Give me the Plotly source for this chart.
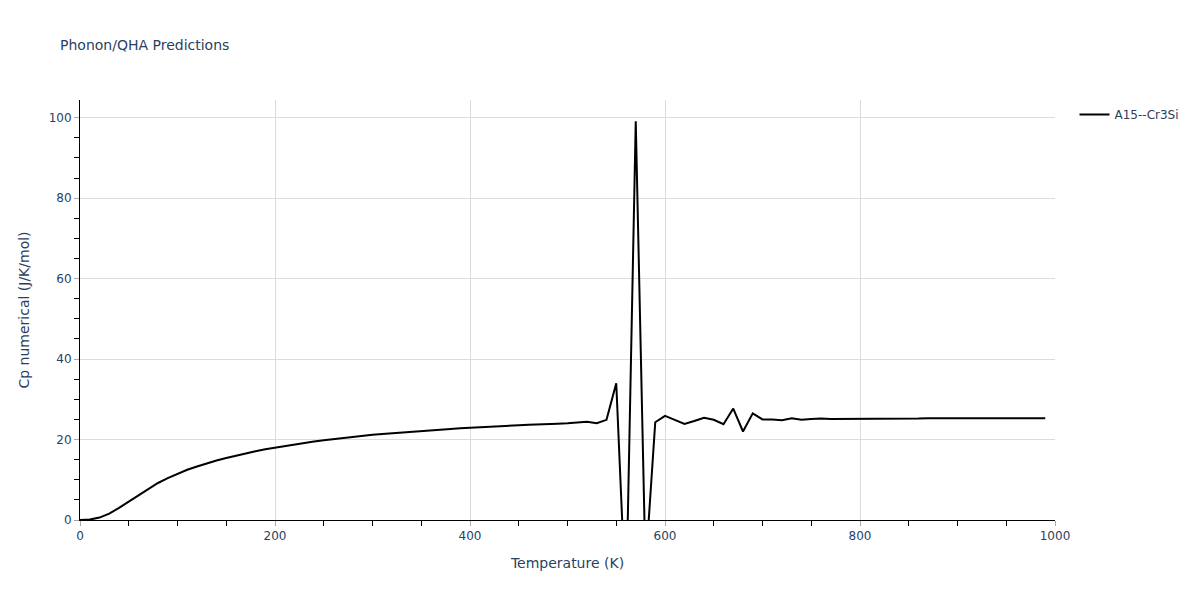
import plotly.graph_objects as go

temperature = list(range(0, 1000, 10))
cp_numerical = [
    0.0, 0.1, 0.6, 1.6, 3.0, 4.6, 6.2, 7.8, 9.2, 10.4,
    11.5, 12.5, 13.3, 14.1, 14.8, 15.4, 16.0, 16.6, 17.1, 17.6,
    18.0, 18.4, 18.8, 19.2, 19.5, 19.8, 20.1, 20.4, 20.7, 20.95,
    21.2, 21.4, 21.6, 21.8, 22.0, 22.2, 22.35, 22.5, 22.65, 22.8,
    22.95, 23.1, 23.2, 23.35, 23.4, 23.55, 23.65, 23.7, 23.85, 23.95,
    24.05, 24.2, 24.4, 24.05, 24.9, 34.0, -22.0, 99.1, -12.0, 24.3,
    25.9, 24.9, 23.9, 24.6, 25.4, 24.9, 23.8, 27.7, 22.0, 26.5,
    25.0, 25.0, 24.8, 25.3, 24.9, 25.1, 25.2, 25.1, 25.1, 25.1,
    25.15, 25.15, 25.2, 25.2, 25.25, 25.2, 25.2, 25.3, 25.3, 25.25,
    25.3, 25.3, 25.3, 25.25, 25.3, 25.3, 25.3, 25.3, 25.3, 25.3,
]
series_name = "A15--Cr3Si"

FONT = "Verdana, DejaVu Sans, sans-serif"

fig = go.Figure()
fig.add_trace(go.Scatter(
    x=temperature, y=cp_numerical, mode="lines", name=series_name,
    line=dict(color="black", width=2),
))

axis_common = dict(
    showline=True, linecolor="black", linewidth=1,
    showgrid=True, gridcolor="#dcdcdc", gridwidth=1,
    ticks="outside", tickcolor="#aaaaaa", ticklen=5,
    zeroline=False,
    tickfont=dict(color="#2a3f5f", size=12, family=FONT),
)

fig.update_layout(
    width=1192, height=592,
    template="plotly_white",
    paper_bgcolor="white", plot_bgcolor="white",
    font=dict(family=FONT, color="#2a3f5f", size=12),
    title=dict(text="Phonon/QHA Predictions", x=52 / 1192, xanchor="left",
               y=1 - 37 / 592, yanchor="middle", font=dict(size=14)),
    margin=dict(l=72, r=145, t=92, b=80),
    showlegend=True,
    legend=dict(x=1.02, y=1, font=dict(size=12)),
    xaxis=dict(
        title=dict(text="Temperature (K)", font=dict(size=14)),
        range=[0, 1000], dtick=200,
        minor=dict(dtick=50, ticks="outside", ticklen=5, tickcolor="black", showgrid=False),
        **axis_common,
    ),
    yaxis=dict(
        title=dict(text="Cp numerical (J/K/mol)", font=dict(size=14)),
        range=[0, 104.4], dtick=20,
        minor=dict(dtick=5, ticks="outside", ticklen=5, tickcolor="black", showgrid=False),
        **axis_common,
    ),
)

fig.write_html("out.html")
